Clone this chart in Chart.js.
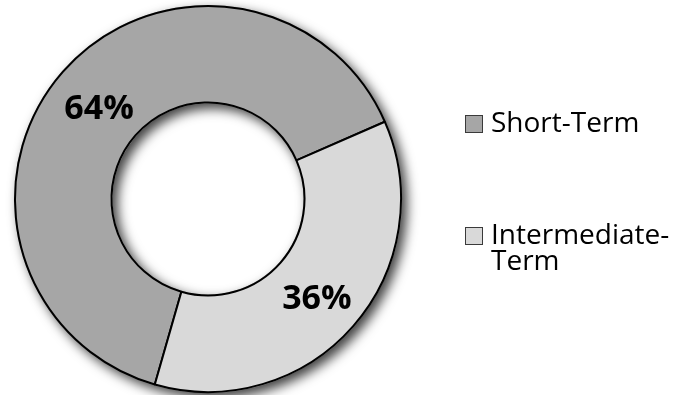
<!DOCTYPE html>
<html>
<head>
<meta charset="utf-8">
<script src="https://cdn.jsdelivr.net/npm/chart.js@4/dist/chart.umd.min.js"></script>
<style>
  html, body { margin: 0; padding: 0; background: #ffffff; }
  #wrap { position: relative; width: 674px; height: 395px; }
</style>
</head>
<body>
<div id="wrap"><canvas id="c" width="674" height="395"></canvas></div>
<script>
const categories = ["Short-Term", "Intermediate-Term"];
const legendLines = [["Short-Term"], ["Intermediate-", "Term"]];
const shares = [64, 36];
const percentLabels = ["64%", "36%"];
const sliceColors = ["#a6a6a6", "#d9d9d9"];

const ringShadow = {
  id: 'ringShadow',
  beforeDatasetsDraw(chart) {
    const arc = chart.getDatasetMeta(0).data[0];
    if (!arc) return;
    const { x, y, outerRadius, innerRadius } = arc.getProps(['x', 'y', 'outerRadius', 'innerRadius'], true);
    const ctx = chart.ctx;
    ctx.save();
    ctx.shadowColor = 'rgba(0,0,0,0.75)';
    ctx.shadowBlur = 12;
    ctx.shadowOffsetX = 5;
    ctx.shadowOffsetY = 5;
    ctx.beginPath();
    ctx.arc(x, y, outerRadius + 1, 0, Math.PI * 2);
    ctx.arc(x, y, innerRadius - 1, 0, Math.PI * 2, true);
    ctx.closePath();
    ctx.fillStyle = '#a6a6a6';
    ctx.fill();
    ctx.restore();
  }
};

const sliceLabels = {
  id: 'sliceLabels',
  afterDatasetsDraw(chart) {
    const ctx = chart.ctx;
    const meta = chart.getDatasetMeta(0);
    ctx.save();
    ctx.font = 'bold 34px "Open Sans"';
    ctx.fillStyle = '#000000';
    ctx.textAlign = 'center';
    ctx.textBaseline = 'alphabetic';
    meta.data.forEach((el, i) => {
      const p = el.tooltipPosition();
      ctx.fillText(percentLabels[i], p.x, p.y + 15);
    });
    ctx.restore();
  }
};

const sideLegend = {
  id: 'sideLegend',
  afterDraw(chart) {
    const ctx = chart.ctx;
    const rows = [{ top: 124 }, { top: 236 }];
    ctx.save();
    ctx.font = '28px "Open Sans"';
    ctx.textBaseline = 'middle';
    ctx.textAlign = 'left';
    categories.forEach((cat, i) => {
      const cy = rows[i].top;
      ctx.fillStyle = sliceColors[i];
      ctx.fillRect(465.5, cy - 8.5, 17, 17);
      ctx.strokeStyle = '#3a3a3a';
      ctx.lineWidth = 1;
      ctx.strokeRect(465.5, cy - 8.5, 17, 17);
      ctx.fillStyle = '#000000';
      legendLines[i].forEach((line, j) => {
        ctx.fillText(line, 491, cy + j * 26);
      });
    });
    ctx.restore();
  }
};

new Chart(document.getElementById('c'), {
  type: 'doughnut',
  data: {
    labels: categories,
    datasets: [{
      data: shares,
      backgroundColor: sliceColors,
      borderColor: '#000000',
      borderWidth: 2,
      hoverOffset: 0
    }]
  },
  options: {
    responsive: false,
    animation: false,
    rotation: 196,
    cutout: '50%',
    layout: { padding: { left: 14, top: 5, right: 272, bottom: 2 } },
    plugins: {
      legend: { display: false },
      tooltip: { enabled: false }
    }
  },
  plugins: [ringShadow, sliceLabels, sideLegend]
});
</script>
</body>
</html>
